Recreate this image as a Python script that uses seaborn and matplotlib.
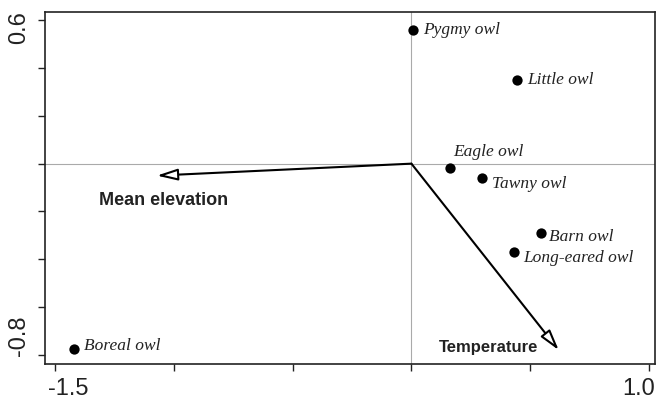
import matplotlib
matplotlib.use("Agg")
import pandas as pd
import matplotlib.pyplot as plt
import matplotlib.transforms as mtransforms
import seaborn as sns

# Species scores
species = ["Pygmy owl", "Little owl", "Eagle owl", "Tawny owl",
           "Barn owl", "Long-eared owl", "Boreal owl"]
axis1 = [0.007, 0.445, 0.161, 0.297, 0.547, 0.431, -1.419]
axis2 = [0.559, 0.348, -0.018, -0.060, -0.292, -0.371, -0.776]

# Environmental vectors
env_names = ["Mean elevation", "Temperature"]
env_x = [-1.071, 0.62]
env_y = [-0.050, -0.78]

# label offsets in pixels (dx, dy) for each species
label_offsets = [(10, 0), (10, 0), (4, 16), (10, -6), (8, -4), (9, -6), (10, 3)]

df = pd.DataFrame({"species": species, "axis1": axis1, "axis2": axis2})

sns.set_style("ticks")
plt.rcParams["font.family"] = ["Liberation Sans", "DejaVu Sans"]

fig = plt.figure(figsize=(6.58, 4.03), dpi=100)
ax = fig.add_axes([0.0684, 0.0968, 0.9270, 0.8732])

ax.axhline(0, color="#aaaaaa", lw=0.8, zorder=0)
ax.axvline(0, color="#aaaaaa", lw=0.8, zorder=0)

sns.scatterplot(data=df, x="axis1", y="axis2", color="black", s=55,
                edgecolor="black", linewidth=0, ax=ax, zorder=3)

for name, x, y, (dx, dy) in zip(species, axis1, axis2, label_offsets):
    ax.annotate(name, (x, y), xytext=(dx, dy), textcoords="offset pixels",
                ha="left", va="center", fontsize=12.5, style="italic",
                family="Liberation Serif", color="#222222")

# arrows for environmental variables
for x, y in zip(env_x, env_y):
    ax.annotate("", xy=(x, y), xytext=(0, 0),
                arrowprops=dict(arrowstyle="-|>,head_length=1.25,head_width=0.35",
                                fc="white", ec="black", lw=1.5,
                                shrinkA=0, shrinkB=0, mutation_scale=10))

ax.text(-1.041, -0.155, env_names[0], ha="center", va="center",
        fontsize=13, fontweight="bold", color="#222222")
ax.text(0.325, -0.767, env_names[1], ha="center", va="center",
        fontsize=12, fontweight="bold", color="#222222")

ax.set_xlim(-1.542, 1.025)
ax.set_ylim(-0.838, 0.634)
ax.set_xticks([-1.5, -1.0, -0.5, 0.0, 0.5, 1.0])
ax.set_xticklabels(["-1.5", "", "", "", "", "1.0"])
ax.set_yticks([-0.8, -0.6, -0.4, -0.2, 0.0, 0.2, 0.4, 0.6])
ax.set_yticklabels(["-0.8", "", "", "", "", "", "", "0.6"], rotation=90, va="center")
ax.tick_params(labelsize=17, length=5, width=1, colors="#222222")
ax.tick_params(axis="x", pad=5)
ax.tick_params(axis="y", pad=6)
ax.set_xlabel("")
ax.set_ylabel("")
for sp in ax.spines.values():
    sp.set_visible(True)
    sp.set_linewidth(1.2)
    sp.set_color("#222222")

# end labels sit inside the tick range, as in the original
px = 1 / fig.dpi
xl = ax.get_xticklabels()
xl[0].set_transform(xl[0].get_transform() + mtransforms.ScaledTranslation(13 * px, 0, fig.dpi_scale_trans))
xl[-1].set_transform(xl[-1].get_transform() + mtransforms.ScaledTranslation(-10 * px, 0, fig.dpi_scale_trans))
yl = ax.get_yticklabels()
yl[0].set_transform(yl[0].get_transform() + mtransforms.ScaledTranslation(0, 19 * px, fig.dpi_scale_trans))
yl[-1].set_transform(yl[-1].get_transform() + mtransforms.ScaledTranslation(0, -7 * px, fig.dpi_scale_trans))

fig.savefig("out.png", dpi=100)
